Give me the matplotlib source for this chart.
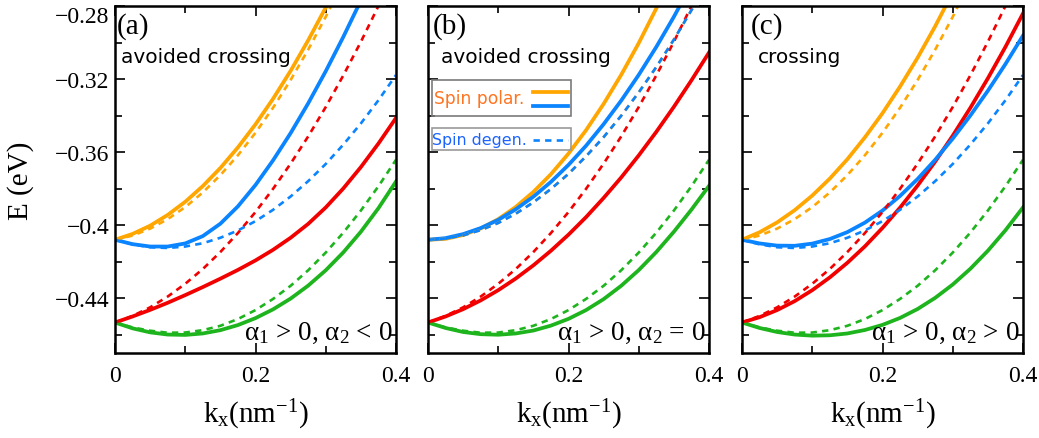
import numpy as np
import matplotlib
matplotlib.use('Agg')
import matplotlib.pyplot as plt
from matplotlib.patches import Rectangle
from matplotlib.lines import Line2D

nan = np.nan

# k_x grid (nm^-1) and band energies (eV)
k = [0.0, 0.025, 0.05, 0.075, 0.1, 0.125, 0.15, 0.175, 0.2,
     0.225, 0.25, 0.275, 0.3, 0.325, 0.35, 0.375, 0.4]

# spin-degenerate bands (dashed), same in (a) and (c)
orange_deg = [-0.408, -0.4057, -0.4019, -0.3967, -0.3901, -0.3821, -0.3726, -0.3617, -0.3494,
              -0.3357, -0.3205, -0.3039, -0.2859, -0.2665, nan, nan, nan]
blue_deg = [-0.408, -0.4105, -0.4121, -0.4125, -0.4117, -0.4099, -0.4069, -0.4029, -0.3978,
            -0.3916, -0.3843, -0.3759, -0.3665, -0.3559, -0.3443, -0.3316, -0.3178]
red_deg = [-0.4533, -0.4497, -0.4450, -0.4391, -0.4321, -0.4240, -0.4147, -0.4043, -0.3928,
           -0.3801, -0.3663, -0.3514, -0.3353, -0.3180, -0.2996, -0.2800, -0.2594]
green_deg = [-0.4533, -0.4560, -0.4578, -0.4589, -0.4588, -0.4575, -0.4551, -0.4514, -0.4465,
             -0.4404, -0.4332, -0.4247, -0.4150, -0.4041, -0.3920, -0.3787, -0.3642]
# upper degenerate band in (b), orange and blue dashed coincide
upper_deg_b = [-0.408, -0.4073, -0.4056, -0.4027, -0.3988, -0.3937, -0.3875, -0.3802, -0.3719,
               -0.3623, -0.3518, -0.3401, -0.3273, -0.3134, -0.2984, -0.2823, -0.2651]

# (a) alpha1 > 0, alpha2 < 0
a_orange = [-0.408, -0.4048, -0.4003, -0.3944, -0.3872, -0.3786, -0.3687, -0.3574, -0.3448,
            -0.3308, -0.3155, -0.2988, -0.2808, -0.2615, nan, nan, nan]
a_blue = [-0.408, -0.4104, -0.4117, -0.4117, -0.4100, -0.4060, -0.3992, -0.3897, -0.3780,
          -0.3645, -0.3496, -0.3333, -0.3157, -0.2969, -0.2770, -0.2561, nan]
a_red = [-0.4533, -0.4500, -0.4464, -0.4425, -0.4383, -0.4339, -0.4293, -0.4245, -0.4193,
         -0.4135, -0.4069, -0.3993, -0.3903, -0.3799, -0.3682, -0.3553, -0.3413]
a_green = [-0.4533, -0.4565, -0.4587, -0.4599, -0.4601, -0.4593, -0.4575, -0.4547, -0.4509,
           -0.4461, -0.4402, -0.4331, -0.4247, -0.4149, -0.4036, -0.3907, -0.3761]

# (b) alpha1 > 0, alpha2 = 0
b_orange = [-0.408, -0.4075, -0.4054, -0.4018, -0.3967, -0.3900, -0.3818, -0.3721, -0.3608,
            -0.3480, -0.3336, -0.3177, -0.3003, -0.2813, nan, nan, nan]
b_blue = [-0.408, -0.4071, -0.4049, -0.4016, -0.3971, -0.3913, -0.3844, -0.3763, -0.3670,
          -0.3565, -0.3447, -0.3318, -0.3177, -0.3024, -0.2859, -0.2682, nan]
b_red = [-0.4533, -0.4500, -0.4460, -0.4412, -0.4356, -0.4292, -0.4220, -0.4140, -0.4052,
         -0.3956, -0.3851, -0.3739, -0.3618, -0.3489, -0.3352, -0.3207, -0.3055]
b_green = [-0.4533, -0.4563, -0.4585, -0.4597, -0.4600, -0.4593, -0.4577, -0.4550, -0.4513,
           -0.4465, -0.4405, -0.4332, -0.4246, -0.4147, -0.4036, -0.3915, -0.3785]

# (c) alpha1 > 0, alpha2 > 0
c_orange = [-0.408, -0.4039, -0.3985, -0.3918, -0.3838, -0.3745, -0.3639, -0.3519, -0.3387,
            -0.3241, -0.3083, -0.2911, -0.2725, nan, nan, nan, nan]
c_blue = [-0.408, -0.4100, -0.4112, -0.4113, -0.4101, -0.4076, -0.4038, -0.3986, -0.3920,
          -0.3840, -0.3747, -0.3642, -0.3526, -0.3400, -0.3264, -0.3118, -0.2962]
c_red = [-0.4533, -0.4504, -0.4465, -0.4416, -0.4356, -0.4286, -0.4206, -0.4116, -0.4015,
         -0.3904, -0.3783, -0.3652, -0.3510, -0.3358, -0.3196, -0.3024, -0.2841]
c_green = [-0.4533, -0.4563, -0.4585, -0.4599, -0.4605, -0.4603, -0.4593, -0.4574, -0.4546,
           -0.4508, -0.4459, -0.4398, -0.4325, -0.4239, -0.4140, -0.4028, -0.3903]

panel_tags = ['(a)', '(b)', '(c)']
panel_notes = ['avoided crossing', 'avoided crossing', 'crossing']
panel_alphas = ['α$_1$ > 0, α$_2$ < 0', 'α$_1$ > 0, α$_2$ = 0', 'α$_1$ > 0, α$_2$ > 0']
x_ticks = [0, 0.2, 0.4]
x_labels = ['0', '0.2', '0.4']
y_ticks = [-0.44, -0.40, -0.36, -0.32, -0.28]
y_labels = ['\u22120.44', '\u22120.4', '\u22120.36', '\u22120.32', '\u22120.28']

solid_sets = [(a_orange, a_green, a_red, a_blue),
              (b_orange, b_green, b_red, b_blue),
              (c_orange, c_green, c_red, c_blue)]
dashed_sets = [(orange_deg, green_deg, red_deg, blue_deg),
               (upper_deg_b, green_deg, red_deg, upper_deg_b),
               (orange_deg, green_deg, red_deg, blue_deg)]

ORANGE = '#ffa600'
BLUE = '#0a84ff'
RED = '#f20000'
GREEN = '#1db41d'
colors = [ORANGE, GREEN, RED, BLUE]
DASH = (0, (2.4, 2.0))

plt.rcParams['font.family'] = ['Liberation Serif', 'DejaVu Serif']
plt.rcParams['mathtext.fontset'] = 'custom'
plt.rcParams['mathtext.rm'] = 'Liberation Serif'
plt.rcParams['mathtext.it'] = 'Liberation Serif:italic'

fig = plt.figure(figsize=(10.39, 4.39), dpi=100)
lefts = [115, 428, 742]
tag_x = [0.008, 0.018, 0.032]
note_x = [0.021, 0.045, 0.056]

for i, left in enumerate(lefts):
    ax = fig.add_axes([left / 1039, 1 - 354 / 439, 281 / 1039, 347 / 439])

    for ys, col in zip(solid_sets[i], colors):
        ax.plot(k, ys, color=col, lw=2.7, solid_joinstyle='round')
    for ys, col in zip(dashed_sets[i], colors):
        ax.plot(k, ys, color=col, lw=1.9, linestyle=DASH)

    ax.set_xlim(0, 0.4)
    ax.set_ylim(-0.47, -0.28)
    ax.set_xticks(x_ticks)
    ax.set_xticklabels(x_labels)
    ax.set_xticks([0.1, 0.3], minor=True)
    ax.set_yticks(y_ticks)
    ax.set_yticks([-0.46, -0.42, -0.38, -0.34, -0.30], minor=True)
    if i == 0:
        ax.set_yticklabels(y_labels)
        # keep the top label inside the figure
        ax.get_yticklabels()[-1].set_va('top')
        ax.set_ylabel('E (eV)', fontsize=21)
        ax.yaxis.set_label_coords(-0.29, 0.5)
    else:
        ax.set_yticklabels([])
    ax.tick_params(which='both', direction='in', top=True, right=True, width=1.2)
    ax.tick_params(which='major', length=7)
    ax.tick_params(which='minor', length=5)
    ax.tick_params(axis='x', pad=9, labelsize=17)
    ax.tick_params(axis='y', pad=4, labelsize=17)
    for sp in ax.spines.values():
        sp.set_linewidth(1.8)

    ax.set_xlabel(r'$\mathrm{k_x(nm^{-1})}$', fontsize=21)
    ax.xaxis.set_label_coords(0.5, -0.125)

    ax.text(tag_x[i], 0.945, panel_tags[i], transform=ax.transAxes,
            fontsize=21, ha='left', va='center')
    ax.text(note_x[i], 0.855, panel_notes[i], transform=ax.transAxes,
            fontsize=14.5, ha='left', va='center', family='DejaVu Sans')
    ax.text(0.988, 0.042, panel_alphas[i], transform=ax.transAxes,
            fontsize=19.5, ha='right', va='baseline')

    if i == 1:
        # hand-made legend boxes
        ax.add_patch(Rectangle((0.013, 0.683), 0.495, 0.104, transform=ax.transAxes,
                               fill=False, edgecolor='#7a7a7a', lw=1.2, zorder=5))
        ax.add_patch(Rectangle((0.013, 0.585), 0.495, 0.063, transform=ax.transAxes,
                               fill=False, edgecolor='#9a9a9a', lw=1.2, zorder=5))
        ax.text(0.022, 0.735, 'Spin polar.', transform=ax.transAxes, fontsize=12.3,
                color='#ff7420', ha='left', va='center', family='DejaVu Sans')
        ax.text(0.016, 0.615, 'Spin degen.', transform=ax.transAxes, fontsize=11.4,
                color='#1a63ff', ha='left', va='center', family='DejaVu Sans')
        ax.add_line(Line2D([0.372, 0.498], [0.751, 0.751], transform=ax.transAxes,
                           color=ORANGE, lw=2.7))
        ax.add_line(Line2D([0.372, 0.498], [0.711, 0.711], transform=ax.transAxes,
                           color=BLUE, lw=2.7))
        ax.add_line(Line2D([0.372, 0.498], [0.614, 0.614], transform=ax.transAxes,
                           color=BLUE, lw=1.9, linestyle=DASH))

fig.savefig('out.png', dpi=100)
